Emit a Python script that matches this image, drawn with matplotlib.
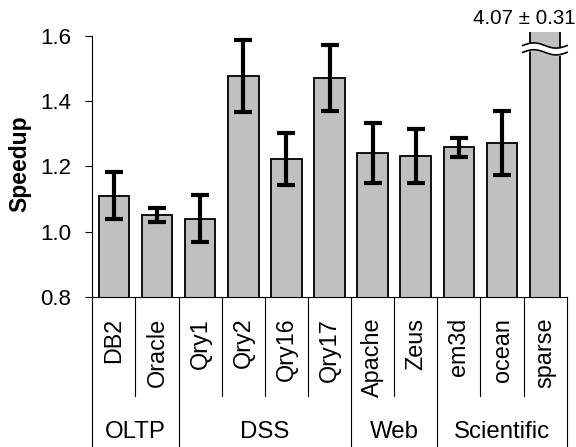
import numpy as np
import matplotlib
matplotlib.use("Agg")
import matplotlib.pyplot as plt
from matplotlib.transforms import blended_transform_factory

plt.rcParams['font.family'] = ['Liberation Sans', 'DejaVu Sans']

# ---- data ----
benchmarks = ["DB2", "Oracle", "Qry1", "Qry2", "Qry16", "Qry17",
              "Apache", "Zeus", "em3d", "ocean", "sparse"]
speedup = [1.110, 1.052, 1.040, 1.477, 1.222, 1.470,
           1.240, 1.231, 1.258, 1.271, 4.07]
errors = [0.072, 0.022, 0.073, 0.110, 0.080, 0.101,
          0.092, 0.083, 0.030, 0.097, 0.31]
groups = ["OLTP", "DSS", "Web", "Scientific"]
group_sizes = [2, 4, 2, 3]
yticks = [0.8, 1.0, 1.2, 1.4, 1.6]
ytick_labels = ["0.8", "1.0", "1.2", "1.4", "1.6"]
annotation = "4.07 ± 0.31"

FS = 16

fig = plt.figure(figsize=(5.76, 4.47), dpi=100)
W, H = 576, 447
ax_l, ax_r, ax_t, ax_b = 92.3, 566.7, 32.0, 297.0
ax = fig.add_axes([ax_l / W, 1 - ax_b / H, (ax_r - ax_l) / W, (ax_b - ax_t) / H])

x = np.arange(len(benchmarks))
ytop = 1.6 + (35.7 - ax_t) / ((ax_b - 35.7) / 0.8)
ax.bar(x, speedup, width=0.71, color="#c0c0c0", edgecolor="black",
       linewidth=1.3, zorder=2)
ax.errorbar(x[:-1], speedup[:-1], yerr=errors[:-1], fmt="none", ecolor="black",
            elinewidth=3.0, capsize=6.5, capthick=3.0, zorder=3)

ax.set_xlim(-0.5, len(benchmarks) - 0.5)
ax.set_ylim(0.8, ytop)
ax.set_yticks(yticks)
ax.set_yticklabels(ytick_labels, fontsize=FS)
ax.tick_params(axis="y", length=5, width=0.8, pad=10, direction="out")
ax.set_xticks(x)
ax.set_xticklabels(benchmarks, rotation=90, fontsize=16.8)
ax.tick_params(axis="x", length=0, pad=15)

for s in ["top", "right"]:
    ax.spines[s].set_visible(False)
ax.spines["left"].set_bounds(0.8, 1.6)
ax.spines["left"].set_linewidth(0.8)
ax.spines["bottom"].set_linewidth(0.8)

# separators below axis
trans = blended_transform_factory(ax.transData, ax.transAxes)
axh = ax_b - ax_t
sub_bottom = -(396 - ax_b) / axh
grp_bottom = -(H - ax_b + 2) / axh
bounds = np.cumsum([0] + group_sizes) - 0.5
for b in np.arange(-0.5, len(benchmarks)):
    yb = grp_bottom if np.any(np.isclose(bounds, b)) else sub_bottom
    ax.plot([b, b], [0, yb], color="black", lw=0.8, transform=trans, clip_on=False)
# group labels
gl_y = -(432 - ax_b) / axh
for g, lo, hi in zip(groups, bounds[:-1], bounds[1:]):
    ax.text((lo + hi) / 2, gl_y, g, transform=trans, ha="center", va="center",
            fontsize=17.3)

# break mark on sparse bar
xi = x[-1]
t = np.linspace(0, 1, 100)
xs = xi - 0.52 + t * 1.03
amp = 0.008
y1 = 1.549 + amp * np.sin(2 * np.pi * t)
y2 = 1.570 + amp * np.sin(2 * np.pi * t)
ax.fill_between(xs, y1, y2, color="white", zorder=4, clip_on=False)
ax.plot(xs, y1, color="black", lw=1.2, zorder=5, clip_on=False)
ax.plot(xs, y2, color="black", lw=1.2, zorder=5, clip_on=False)

fig.text(576 / W, 1 - 19 / H, annotation, ha="right", va="center", fontsize=14.8)
fig.text(19.5 / W, 1 - 164 / H, "Speedup", rotation=90, ha="center", va="center",
         fontsize=16.5, fontweight="bold")

fig.savefig("out.png", dpi=100)
